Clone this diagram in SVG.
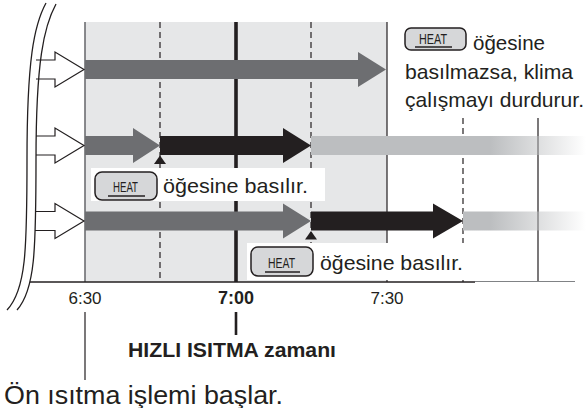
<svg xmlns="http://www.w3.org/2000/svg" width="586" height="408" viewBox="0 0 586 408">
<style>
.t{font-family:"Liberation Sans",Arial,sans-serif;fill:#231f20}
.ln{stroke:#231f20;fill:none}
.dash{stroke:#231f20;stroke-width:1.2;stroke-dasharray:6 4;fill:none}
.btn{fill:#d6d7d9;stroke:#231f20;stroke-width:1.5}
.heat{font-family:"Liberation Sans",Arial,sans-serif;font-size:15px;fill:#231f20}
.ul{stroke:#231f20;stroke-width:1.6}
.gray{fill:#6d6e71}
.blk{fill:#231f20}
.hollow{fill:#fff;stroke:#231f20;stroke-width:1.2;stroke-linejoin:miter}
</style>
<defs>
<linearGradient id="fade" gradientUnits="userSpaceOnUse" x1="490" y1="0" x2="586" y2="0">
<stop offset="0" stop-color="#bcbec0"/>
<stop offset="1" stop-color="#bcbec0" stop-opacity="0"/>
</linearGradient>
</defs>
<rect width="586" height="408" fill="#fff"/>
<g id="panel">
<rect x="85" y="22" width="302" height="260" fill="#e6e7e8"/>
<line x1="85" y1="22" x2="85" y2="282" stroke="#6d6e71" stroke-width="1.6"/>
<line class="ln" x1="387" y1="22" x2="387" y2="282" stroke-width="1.2"/>
</g>
<g id="gridlines">
<line class="dash" x1="160" y1="22" x2="160" y2="282"/>
<line class="dash" x1="311" y1="22" x2="311" y2="282"/>
<line class="dash" x1="463" y1="118" x2="463" y2="282"/>
<line class="ln" x1="538" y1="118" x2="538" y2="282" stroke-width="1.2"/>
<line class="ln" x1="236" y1="22" x2="236" y2="282" stroke-width="3.6"/>
<line class="ln" x1="30" y1="282" x2="475" y2="282" stroke-width="1.4"/>
<line x1="475" y1="281.5" x2="575" y2="281.5" stroke="#808285" stroke-width="1.2"/>
</g>
<g id="connectors">
<g id="row1">
<path class="gray" d="M85,60 H358 V52 L386,69.5 L358,87 V79 H85 Z"/>
</g>
<g id="row2">
<path class="gray" d="M85,136 H133 V128 L160,145.5 L133,163 V155 H85 Z"/>
<path class="blk" d="M160,136 H283 V128 L311,145.5 L283,163 V155 H160 Z"/>
<rect x="311" y="136" width="275" height="19" fill="url(#fade)"/>
<polygon class="blk" points="154,164 166,164 160,155.5"/>
</g>
<g id="row3">
<path class="gray" d="M85,211.5 H283 V203.5 L311,221 L283,238.5 V230.5 H85 Z"/>
<path class="blk" d="M311,211.5 H433 V203.5 L463,221 L433,238.5 V230.5 H311 Z"/>
<rect x="463" y="211.5" width="123" height="19" fill="url(#fade)"/>
<polygon class="blk" points="305,239.5 317,239.5 311,231"/>
</g>
<path class="hollow" d="M36,60 H55 V52 L84,69.5 L55,87 V79 H36"/>
<path class="hollow" d="M36,136 H55 V128 L84,145.5 L55,163 V155 H36"/>
<path class="hollow" d="M35,211.5 H55 V203.5 L84,221 L55,238.5 V230.5 H35"/>
<path class="ln" stroke-width="1.3" d="M46,3 C34,25 27,60 27,160 C27,250 26,290 7,310"/>
<path class="ln" stroke-width="1.3" d="M56,4 C44,26 36,61 36,160 C36,250 35,290 17,310"/>
<line class="ln" x1="85" y1="312" x2="85" y2="380" stroke-width="1.2"/>
<line class="ln" x1="236" y1="312" x2="236" y2="335" stroke-width="2.6"/>
</g>
<g id="label-top">
<rect class="btn" x="405" y="28" width="61" height="22" rx="6"/>
<text class="heat" font-size="14" x="419" y="44" textLength="28" lengthAdjust="spacingAndGlyphs">HEAT</text>
<line class="ul" x1="415" y1="47" x2="452" y2="47"/>
<text class="t" font-size="21" x="473" y="50" textLength="72" lengthAdjust="spacingAndGlyphs">öğesine</text>
<text class="t" font-size="21" x="405" y="79" textLength="168" lengthAdjust="spacingAndGlyphs">basılmazsa, klima</text>
<text class="t" font-size="21" x="405" y="107" textLength="179" lengthAdjust="spacingAndGlyphs">çalışmayı durdurur.</text>
</g>
<g id="label-mid">
<rect x="91" y="168" width="234" height="33" fill="#fff"/>
<rect class="btn" x="95" y="172" width="62" height="28" rx="7"/>
<text class="heat" x="113" y="192" textLength="25" lengthAdjust="spacingAndGlyphs">HEAT</text>
<line class="ul" x1="108" y1="196" x2="145" y2="196"/>
<text class="t" font-size="21" x="163" y="193" textLength="145" lengthAdjust="spacingAndGlyphs">öğesine basılır.</text>
</g>
<g id="label-low">
<rect x="247" y="243" width="225" height="37" fill="#fff"/>
<rect class="btn" x="251" y="247" width="62" height="29" rx="7"/>
<text class="heat" x="268" y="268" textLength="27" lengthAdjust="spacingAndGlyphs">HEAT</text>
<line class="ul" x1="265" y1="272" x2="300" y2="272"/>
<text class="t" font-size="21" x="320" y="270" textLength="143" lengthAdjust="spacingAndGlyphs">öğesine basılır.</text>
</g>
<g id="axis-labels">
<text class="t" font-size="17" x="85" y="304" text-anchor="middle">6:30</text>
<text class="t" font-size="18" font-weight="bold" x="236" y="304" text-anchor="middle">7:00</text>
<text class="t" font-size="17" x="387" y="304" text-anchor="middle">7:30</text>
<text class="t" font-size="21" font-weight="bold" x="128" y="357" textLength="208" lengthAdjust="spacingAndGlyphs">HIZLI ISITMA zamanı</text>
<text class="t" font-size="25" x="4" y="404" textLength="279" lengthAdjust="spacingAndGlyphs">Ön ısıtma işlemi başlar.</text>
</g>
</svg>
